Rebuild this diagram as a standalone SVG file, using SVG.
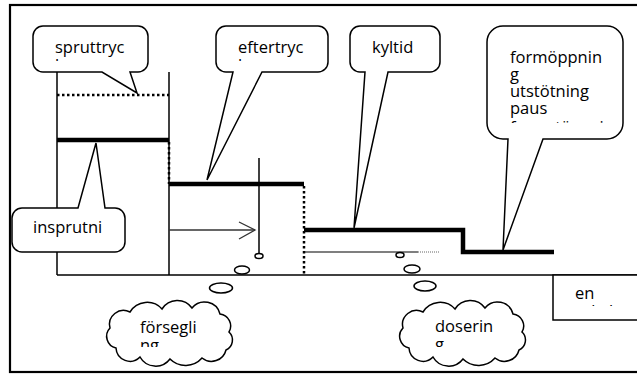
<svg xmlns="http://www.w3.org/2000/svg" width="637" height="374" viewBox="0 0 637 374">
<style>
.t{font-family:"Open Sans","Liberation Sans",sans-serif;font-size:16.5px;fill:#000}
.bub{fill:#fff;stroke:#000;stroke-width:1.5;stroke-linejoin:miter}
.thin{stroke:#000;stroke-width:1.5;fill:none}
.thick{stroke:#000;stroke-width:4.5;fill:none;stroke-linejoin:miter}
.dot{stroke:#000;stroke-width:2.5;stroke-dasharray:2.5 2.5;fill:none}
.ell{fill:#fff;stroke:#000;stroke-width:1.5}
</style>
<defs>
<path id="cloud" d="M8,26 A14,14 0 0 1 28,10 A20,20 0 0 1 60,7 A18,18 0 0 1 90,6 A16,16 0 0 1 118,12 A12,12 0 0 1 127,30 A11,11 0 0 1 124,48 A15,15 0 0 1 100,56 A22,22 0 0 1 68,57 A18,18 0 0 1 38,55 A14,14 0 0 1 14,46 A12,12 0 0 1 8,26 Z"/>
<clipPath id="c1"><rect x="33" y="26" width="115" height="35"/></clipPath>
<clipPath id="c2"><rect x="216" y="26" width="112" height="35"/></clipPath>
<clipPath id="c4"><rect x="487" y="26" width="136" height="97"/></clipPath>
<clipPath id="c6"><rect x="110" y="306" width="120" height="41"/></clipPath>
<clipPath id="c7"><rect x="403" y="306" width="120" height="41"/></clipPath>
<clipPath id="c8"><rect x="553" y="276" width="84" height="30"/></clipPath>
</defs>
<rect x="10" y="5" width="640" height="367" fill="#fff" stroke="#000" stroke-width="2.2"/>
<g id="connectors">
<line class="thin" x1="57" y1="60" x2="57" y2="275"/>
<line class="thin" x1="169" y1="72" x2="169" y2="275"/>
<line class="thin" x1="57" y1="275" x2="640" y2="275"/>
<line class="dot" x1="57" y1="95" x2="169" y2="95"/>
<line class="thick" x1="57" y1="140" x2="169" y2="140"/>
<line class="dot" x1="169" y1="142" x2="169" y2="184"/>
<line class="thick" x1="169" y1="184" x2="304" y2="184"/>
<line class="dot" x1="304" y1="186" x2="304" y2="275"/>
<polyline class="thick" points="304,230 463,230 463,252 554,252"/>
<line class="thin" x1="259" y1="158" x2="259" y2="253"/>
<ellipse class="ell" cx="259" cy="256" rx="4" ry="2.5"/>
<line stroke="#333" stroke-width="1.3" x1="169" y1="230" x2="255" y2="230"/>
<polyline fill="none" stroke="#333" stroke-width="1.3" points="239,222 255,230 239,239"/>
<line stroke="#000" stroke-width="1.2" x1="304" y1="252" x2="418" y2="252"/>
<line stroke="#666" stroke-width="1" stroke-dasharray="1 1" x1="418" y1="252" x2="440" y2="252"/>
<ellipse class="ell" cx="400" cy="255" rx="4" ry="2.5"/>
<ellipse class="ell" cx="242" cy="270" rx="7.5" ry="4"/>
<ellipse class="ell" cx="221" cy="288" rx="11.5" ry="5"/>
<ellipse class="ell" cx="412" cy="269" rx="8" ry="4"/>
<ellipse class="ell" cx="425" cy="286" rx="11" ry="5"/>
</g>
<g id="spruttryck">
<path class="bub" d="M43,26 H138 A10,10 0 0 1 148,36 V62 A10,10 0 0 1 138,72 H130 L137,93 L102,72 H43 A10,10 0 0 1 33,62 V36 A10,10 0 0 1 43,26 Z"/>
<g clip-path="url(#c1)"><text class="t" x="55" y="53">spruttryc</text><text class="t" x="55" y="71">k</text></g>
</g>
<g id="eftertryck">
<path class="bub" d="M226,26 H318 A10,10 0 0 1 328,36 V62 A10,10 0 0 1 318,72 H262 L207,180 L233,72 H226 A10,10 0 0 1 216,62 V36 A10,10 0 0 1 226,26 Z"/>
<g clip-path="url(#c2)"><text class="t" x="238" y="53">eftertryc</text><text class="t" x="238" y="71">k</text></g>
</g>
<g id="kyltid">
<path class="bub" d="M360,26 H430 A10,10 0 0 1 440,36 V62 A10,10 0 0 1 430,72 H388 L354,228 L365,72 H360 A10,10 0 0 1 350,62 V36 A10,10 0 0 1 360,26 Z"/>
<text class="t" x="372" y="53">kyltid</text>
</g>
<g id="formoppning">
<path class="bub" d="M503,26 H607 A16,16 0 0 1 623,42 V123 A16,16 0 0 1 607,139 H543 L503,250 L508,139 H503 A16,16 0 0 1 487,123 V42 A16,16 0 0 1 503,26 Z"/>
<g clip-path="url(#c4)">
<text class="t" x="510" y="63">formöppnin</text>
<text class="t" x="510" y="80">g</text>
<text class="t" x="510" y="97">utstötning</text>
<text class="t" x="510" y="114">paus</text>
<text class="t" x="510" y="133">formstängning</text>
</g>
</g>
<g id="insprutning">
<path class="bub" d="M22,208 H78 L96,143 L105,208 H115 A10,10 0 0 1 125,218 V242 A10,10 0 0 1 115,252 H22 A10,10 0 0 1 12,242 V218 A10,10 0 0 1 22,208 Z"/>
<text class="t" x="33" y="233">insprutni</text>
</g>
<g id="forsegling">
<use href="#cloud" transform="translate(102,302)" fill="#fff" stroke="#000" stroke-width="1.5"/>
<g clip-path="url(#c6)"><text class="t" x="140" y="333">försegli</text><text class="t" x="140" y="351">ng</text></g>
</g>
<g id="dosering">
<use href="#cloud" transform="translate(395,302)" fill="#fff" stroke="#000" stroke-width="1.5"/>
<g clip-path="url(#c7)"><text class="t" x="435" y="332">doserin</text><text class="t" x="435" y="350">g</text></g>
</g>
<g id="encykel">
<rect x="553" y="275" width="90" height="45" fill="#fff" stroke="#000" stroke-width="1.5"/>
<g clip-path="url(#c8)"><text class="t" x="575" y="299">en</text><text class="t" x="575" y="317">cykel</text></g>
</g>
</svg>
